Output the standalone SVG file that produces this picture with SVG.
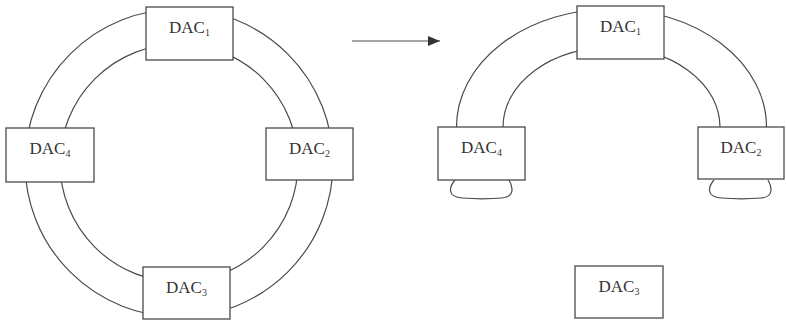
<svg xmlns="http://www.w3.org/2000/svg" width="786" height="321" viewBox="0 0 786 321">
<defs>
<style>
.ln{fill:none;stroke:#4a4a4a;stroke-width:1.2}
.box{fill:#fff;stroke:#4a4a4a;stroke-width:1.3}
.t{font-family:"Liberation Serif","Times New Roman",serif;font-size:17px;fill:#333;text-anchor:middle}
.s{font-size:10px}
</style>
<marker id="ah" viewBox="0 0 12 10" refX="12" refY="5" markerWidth="12" markerHeight="10" markerUnits="userSpaceOnUse" orient="auto">
<path d="M0,0 L12,5 L0,10 Z" fill="#333"/>
</marker>
</defs>
<rect width="786" height="321" fill="#fff"/>
<g id="connectors">
<circle class="ln" cx="179" cy="163" r="154"/>
<circle class="ln" cx="179" cy="163" r="119"/>
<path class="ln" d="M456.5,127 A155,118 0 0 1 766.5,127"/>
<path class="ln" d="M503,127 A108.5,80 0 0 1 720,127"/>
<path class="ln" d="M455,180 C449,187 447,197 462,198 C475,199 490,199 502,198 C515,197 513,187 509,180"/>
<path class="ln" d="M714,180 C708,187 706,197 721,198 C734,199 749,199 761,198 C774,197 772,187 768,180"/>
<line class="ln" x1="352" y1="41" x2="440" y2="41" marker-end="url(#ah)"/>
</g>
<g id="L-DAC1"><rect class="box" x="146" y="7" width="87" height="53"/><text class="t" x="189.5" y="33">DAC<tspan class="s" dy="3">1</tspan></text></g>
<g id="L-DAC4"><rect class="box" x="6" y="128" width="88" height="54"/><text class="t" x="50" y="154">DAC<tspan class="s" dy="3">4</tspan></text></g>
<g id="L-DAC2"><rect class="box" x="266" y="128" width="87" height="52"/><text class="t" x="309.5" y="154">DAC<tspan class="s" dy="3">2</tspan></text></g>
<g id="L-DAC3"><rect class="box" x="143" y="267" width="87" height="52"/><text class="t" x="186.5" y="293">DAC<tspan class="s" dy="3">3</tspan></text></g>
<g id="R-DAC1"><rect class="box" x="577" y="6" width="87" height="53"/><text class="t" x="620.5" y="32">DAC<tspan class="s" dy="3">1</tspan></text></g>
<g id="R-DAC4"><rect class="box" x="438" y="127" width="87" height="53"/><text class="t" x="481.5" y="153">DAC<tspan class="s" dy="3">4</tspan></text></g>
<g id="R-DAC2"><rect class="box" x="698" y="127" width="86" height="52"/><text class="t" x="741" y="153">DAC<tspan class="s" dy="3">2</tspan></text></g>
<g id="R-DAC3"><rect class="box" x="575" y="266" width="88" height="52"/><text class="t" x="619" y="292">DAC<tspan class="s" dy="3">3</tspan></text></g>
</svg>
